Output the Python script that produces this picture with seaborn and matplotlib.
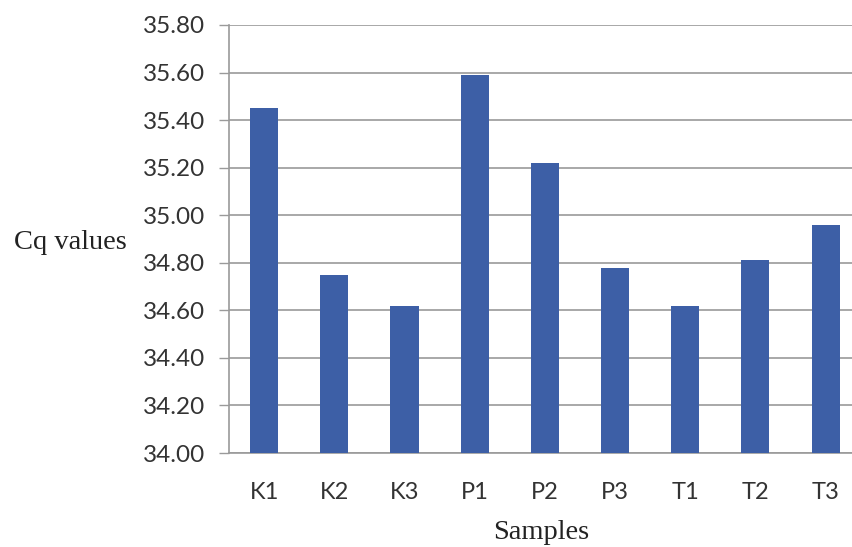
import matplotlib
matplotlib.use("Agg")
import matplotlib.pyplot as plt
import seaborn as sns
import pandas as pd
import numpy as np

samples = ["K1", "K2", "K3", "P1", "P2", "P3", "T1", "T2", "T3"]
cq_values = [35.45, 34.75, 34.62, 35.59, 35.22, 34.78, 34.62, 34.81, 34.96]
y_ticks = [34.00, 34.20, 34.40, 34.60, 34.80, 35.00, 35.20, 35.40, 35.60, 35.80]

df = pd.DataFrame({"Samples": samples, "Cq": cq_values})

sns.set_theme(style="white")
plt.rcParams["font.family"] = ["Lato", "DejaVu Sans"]

fig = plt.figure(figsize=(8.53, 5.47), dpi=100)
ax = fig.add_axes([0.2685, 0.1718, 0.7315, 0.7825])

bar_color = "#3d5fa6"
sns.barplot(data=df, x="Samples", y="Cq", color=bar_color, width=0.4,
            saturation=1, ax=ax, zorder=3)

# bars start at the axis floor rather than zero
for patch, v in zip(ax.patches, cq_values):
    patch.set_y(y_ticks[0])
    patch.set_height(v - y_ticks[0])
    patch.set_edgecolor("none")

ax.set_ylim(y_ticks[0], y_ticks[-1])
ax.set_xlim(-0.5, 8.39)
ax.set_yticks(y_ticks)
ax.set_yticklabels([f"{t:.2f}" for t in y_ticks], fontsize=17.5, color="#333333")
ax.yaxis.grid(True, color="#9a9a9a", linewidth=1.2, zorder=0)
ax.set_axisbelow(True)

ax.set_xticks(range(len(samples)))
ax.set_xticklabels(samples, fontsize=17, color="#333333")
ax.set_xticks(np.arange(-0.5, 8.5, 1.0), minor=True)
ax.tick_params(axis="x", which="major", length=0, pad=21)
ax.tick_params(axis="x", which="minor", length=6, color="#9a9a9a", width=1, direction="out")
ax.tick_params(axis="y", which="major", length=7, color="#9a9a9a", width=1,
               direction="out", pad=10, left=True)

for side in ["top", "right"]:
    ax.spines[side].set_visible(False)
for side in ["left", "bottom"]:
    ax.spines[side].set_color("#9a9a9a")
    ax.spines[side].set_linewidth(1.2)

ax.set_xlabel("Samples", fontsize=20.5, family=["Liberation Serif"], color="#222222", labelpad=12)
ax.set_ylabel("")
fig.text(0.083, 0.556, "Cq values", fontsize=20.5, family=["Liberation Serif"],
         color="#222222", ha="center", va="center")

fig.savefig("out.png", dpi=100)
